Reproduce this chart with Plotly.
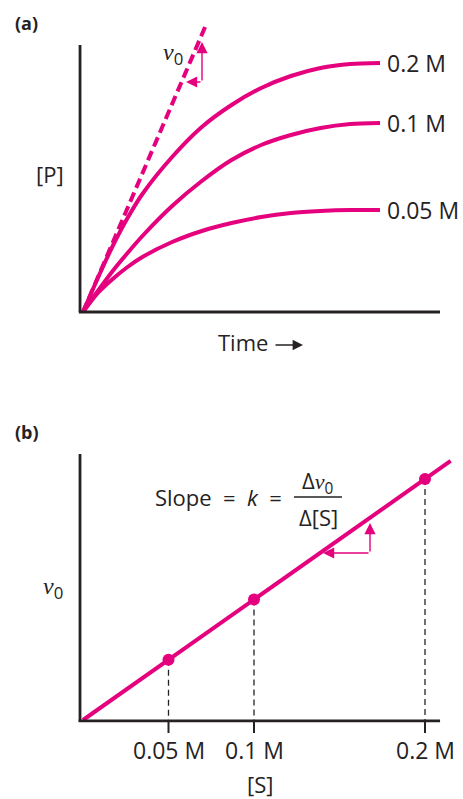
import plotly.graph_objects as go

W, H = 463, 799
MAGENTA = "#E5007E"
INK = "#262223"
FONT = "Open Sans"
SERIF = "Liberation Serif"

# ---------------- data: panel (a) ----------------
time = [0, 0.5, 1, 1.5, 2, 3, 4, 5, 6, 7, 8, 9, 10]
p_02 = [0, 0.34, 0.66, 0.94, 1.18, 1.55, 1.85, 2.07, 2.24, 2.36, 2.44, 2.48, 2.49]
p_01 = [0, 0.21, 0.41, 0.59, 0.76, 1.06, 1.31, 1.52, 1.67, 1.77, 1.84, 1.88, 1.89]
p_005 = [0, 0.19, 0.33, 0.45, 0.55, 0.70, 0.81, 0.89, 0.95, 0.99, 1.01, 1.02, 1.02]
series_labels = ["0.2 M", "0.1 M", "0.05 M"]
tangent_t = [0, 4.14]
tangent_p = [0, 2.87]

# ---------------- data: panel (b) ----------------
s_conc = [0.05, 0.1, 0.2]
v0 = [0.25, 0.5, 1.0]
fit_s = [0, 0.215]
fit_v = [0, 1.075]
tick_labels = ["0.05 M", "0.1 M", "0.2 M"]


def px(x):
    return x / W


def py(y):
    return 1 - y / H


NU = f'<span style="font-family:{SERIF}"><i>ν</i></span>'

fig = go.Figure()

# panel (a) curves
for p, lab in zip([p_02, p_01, p_005], series_labels):
    fig.add_trace(go.Scatter(x=time, y=p, mode="lines",
                             line=dict(color=MAGENTA, width=4, shape="spline", smoothing=0.8),
                             xaxis="x", yaxis="y", hoverinfo="skip"))
    fig.add_annotation(x=time[-1], y=p[-1], xref="x", yref="y", text=lab, showarrow=False,
                       xanchor="left", yanchor="middle", xshift=5, font=dict(family=FONT, size=23, color=INK))
fig.add_trace(go.Scatter(x=tangent_t, y=tangent_p, mode="lines",
                         line=dict(color=MAGENTA, width=4, dash="10px,5px"),
                         xaxis="x", yaxis="y", hoverinfo="skip"))

# panel (b)
drop_x, drop_y = [], []
for s, v in zip(s_conc, v0):
    drop_x += [s, s, None]
    drop_y += [v, 0, None]
fig.add_trace(go.Scatter(x=drop_x, y=drop_y, mode="lines",
                         line=dict(color=INK, width=1.3, dash="6px,4px"),
                         xaxis="x2", yaxis="y2", hoverinfo="skip"))
fig.add_trace(go.Scatter(x=fit_s, y=fit_v, mode="lines", line=dict(color=MAGENTA, width=4),
                         xaxis="x2", yaxis="y2", hoverinfo="skip"))
fig.add_trace(go.Scatter(x=s_conc, y=v0, mode="markers", marker=dict(color=MAGENTA, size=12),
                         xaxis="x2", yaxis="y2", hoverinfo="skip"))

shapes = []
AX = dict(color=INK, width=2.8)
# panel (a) axes
shapes.append(dict(type="line", xref="x", yref="y", x0=-0.1, x1=-0.1, y0=0, y1=2.67, line=AX))
shapes.append(dict(type="line", xref="x", yref="y", x0=-0.14, x1=12.02, y0=0, y1=0, line=AX))
# panel (b) axes
shapes.append(dict(type="line", xref="x2", yref="y2", x0=-0.00175, x1=-0.00175, y0=-0.004, y1=1.104, line=AX))
shapes.append(dict(type="line", xref="x2", yref="y2", x0=-0.0026, x1=0.2088, y0=-0.004, y1=-0.004, line=AX))
for s in s_conc:
    shapes.append(dict(type="line", xref="x2", yref="y2", x0=s, x1=s, y0=-0.004, y1=-0.054,
                       line=dict(color=INK, width=2)))
# fraction bar
shapes.append(dict(type="line", xref="paper", yref="paper", x0=px(294), x1=px(342), y0=py(497), y1=py(497),
                   line=dict(color=INK, width=1.3)))

TXT = dict(family=FONT, size=22, color=INK)
ann = []
ann.append(dict(x=px(13), y=py(23), text="<b>(a)</b>", xanchor="left", font=dict(family=FONT, size=18, color=INK)))
ann.append(dict(x=px(13), y=py(432), text="<b>(b)</b>", xanchor="left", font=dict(family=FONT, size=18, color=INK)))
ann.append(dict(x=px(50), y=py(174), text="[P]", font=TXT))
ann.append(dict(x=px(243), y=py(342), text="Time", font=TXT))
ann.append(dict(x=px(173), y=py(54), text=NU + "<sub>0</sub>", font=dict(family=FONT, size=24, color=INK)))
ann.append(dict(x=px(53), y=py(588), text=NU + "<sub>0</sub>", font=dict(family=FONT, size=24, color=INK)))
ann.append(dict(x=px(260), y=py(784), text="[S]", font=TXT))
for s, lab in zip(s_conc, tick_labels):
    ann.append(dict(x=s, xref="x2", y=py(750), text=lab, font=dict(family=FONT, size=23, color=INK)))
ann.append(dict(x=px(153), y=py(497), text="Slope\u00a0\u00a0=\u00a0\u00a0<i>k</i>\u00a0\u00a0=", xanchor="left", font=TXT))
ann.append(dict(x=px(318), y=py(482), text="Δ" + NU + "<sub>0</sub>", font=TXT))
ann.append(dict(x=px(318), y=py(517), text="Δ[S]", font=TXT))

for a in ann:
    a.setdefault("xref", "paper")
    a.setdefault("yref", "paper")
    a.setdefault("showarrow", False)
    a.setdefault("yanchor", "middle")
    a.setdefault("xanchor", "center")
    fig.add_annotation(**a)

# arrows
ARW = dict(xref="paper", yref="paper", text="", showarrow=True, arrowhead=2, arrowsize=1.6,
           arrowwidth=1.4, arrowcolor=MAGENTA, axref="pixel", ayref="pixel")
for hx, hy, ax, ay in [(202, 42, 0, 40), (186, 82, 16, 0), (370, 523, 0, 30), (323, 553, 47, 0)]:
    fig.add_annotation(x=px(hx), y=py(hy), ax=ax, ay=ay, **ARW)
fig.add_annotation(x=px(303), y=py(345), ax=-29, ay=0, xref="paper", yref="paper", text="", showarrow=True,
                   arrowhead=2, arrowsize=1.3, arrowwidth=1.6, arrowcolor=INK)

hidden = dict(visible=False, showgrid=False, zeroline=False, fixedrange=True)
fig.update_layout(
    width=W, height=H, margin=dict(l=0, r=0, t=0, b=0),
    paper_bgcolor="white", plot_bgcolor="rgba(0,0,0,0)", showlegend=False,
    xaxis=dict(domain=[0, 1], range=[-83 / 29.7, (W - 83) / 29.7], anchor="y", **hidden),
    yaxis=dict(domain=[0, 1], range=[(312 - H) / 100, 312 / 100], anchor="x", **hidden),
    xaxis2=dict(domain=[0, 1], range=[-83 / 1710, (W - 83) / 1710], anchor="y2", **hidden),
    yaxis2=dict(domain=[0, 1], range=[(720 - H) / 241, 720 / 241], anchor="x2", **hidden),
    shapes=shapes,
)

fig.write_html("out.html", config={"displayModeBar": False},
               post_script="document.body.style.margin='0';document.body.style.overflow='hidden';")
